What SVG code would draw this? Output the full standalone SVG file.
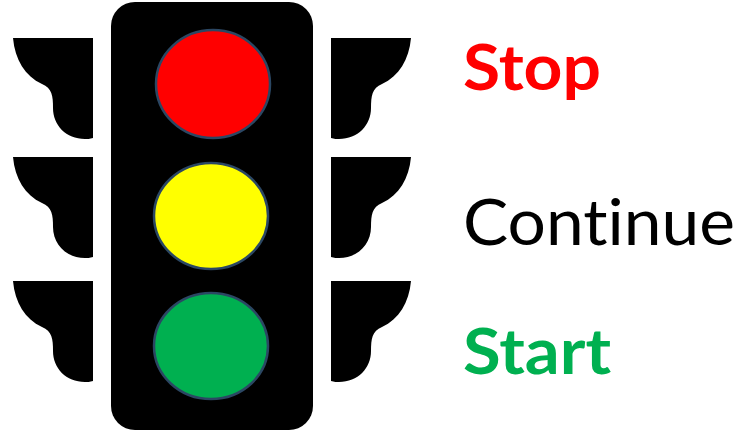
<svg xmlns="http://www.w3.org/2000/svg" width="748" height="430" viewBox="0 0 748 430">
<style>
.lbl{font-family:"Lato","Liberation Sans",sans-serif;font-size:64px;font-variant-ligatures:none}
.b{font-weight:700}
.lamp{stroke:#2b4763;stroke-width:2.5}
.wing{fill:#000}
</style>
<defs>
<path id="w" class="wing" d="M13 38H93V138C90 139 87 139 85 139C66 139 53 125 53 108C53 96 52 88 42 84C25 76 15 60 13 38Z"/>
</defs>
<rect width="748" height="430" fill="#fff"/>
<g id="housing">
<rect x="111" y="2" width="202" height="428" rx="24" fill="#000"/>
</g>
<g id="visors">
<use href="#w"/>
<use href="#w" y="119"/>
<use href="#w" y="243"/>
<use href="#w" transform="matrix(-1 0 0 1 424 0)"/>
<use href="#w" transform="matrix(-1 0 0 1 424 119)"/>
<use href="#w" transform="matrix(-1 0 0 1 424 243)"/>
</g>
<g id="red-light"><ellipse class="lamp" cx="213" cy="84" rx="57" ry="54" fill="#f00"/></g>
<g id="yellow-light"><ellipse class="lamp" cx="211" cy="216" rx="57" ry="53" fill="#ff0"/></g>
<g id="green-light"><ellipse class="lamp" cx="211" cy="346" rx="57" ry="53" fill="#00b050"/></g>
<g id="stop"><text class="lbl b" x="463" y="90" fill="#f00" textLength="138" lengthAdjust="spacingAndGlyphs">Stop</text></g>
<g id="continue"><text class="lbl" x="463" y="245" fill="#000" textLength="272" lengthAdjust="spacingAndGlyphs">Continue</text></g>
<g id="start"><text class="lbl b" x="463" y="374" fill="#00b050" textLength="148" lengthAdjust="spacingAndGlyphs">Start</text></g>
<g id="connectors"></g>
</svg>
